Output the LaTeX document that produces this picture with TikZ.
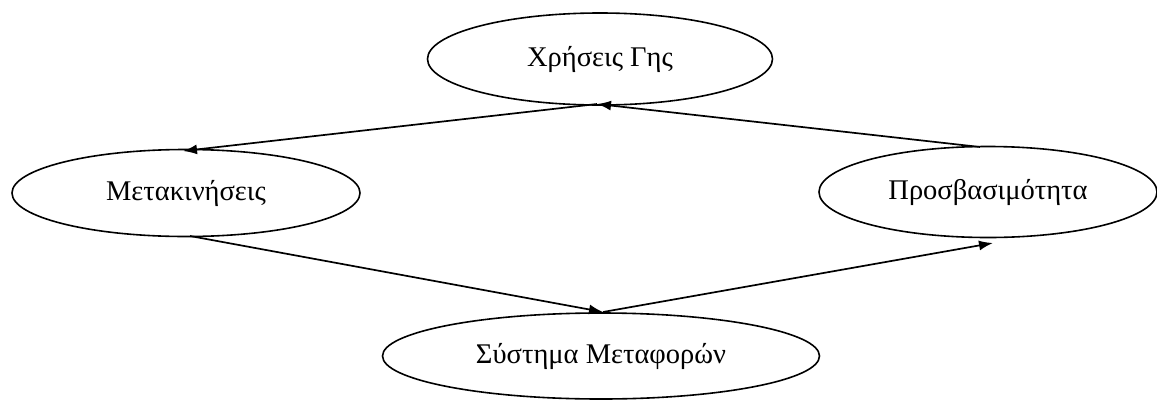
\documentclass[tikz,border=0pt]{standalone}
\usepackage{fontspec}
\setmainfont{Liberation Serif}
\usetikzlibrary{shapes.geometric,arrows.meta}
\begin{document}
\begin{tikzpicture}[x=1pt,y=-1pt,
  oval/.style={draw, ellipse, line width=1.6pt, inner sep=0pt, font=\fontsize{28.5}{32}\selectfont},
  conn/.style={line width=1.7pt, -{Latex[length=14pt,width=10pt]}}]
\useasboundingbox (0,0) rectangle (1157,402);
\node[oval, minimum width=345pt, minimum height=92pt] (top) at (600,59) {Χρήσεις Γης};
\node[oval, minimum width=348pt, minimum height=87pt] (left) at (186,193) {Μετακινήσεις};
\node[oval, minimum width=338pt, minimum height=91pt] (right) at (988,192) {Προσβασιμότητα};
\node[oval, minimum width=437pt, minimum height=86pt] (bot) at (601,356) {Σύστημα Μεταφορών};
\coordinate (tb) at (597,104);
\coordinate (lt) at (183,151);
\coordinate (rt) at (980,147);
\coordinate (lb) at (190,236);
\coordinate (bt) at (603,312);
\coordinate (rb) at (993,243);
\draw[conn] (tb) -- (lt);
\draw[conn] (rt) -- (tb);
\draw[conn] (lb) -- (bt);
\draw[conn] (bt) -- (rb);
\end{tikzpicture}
\end{document}
